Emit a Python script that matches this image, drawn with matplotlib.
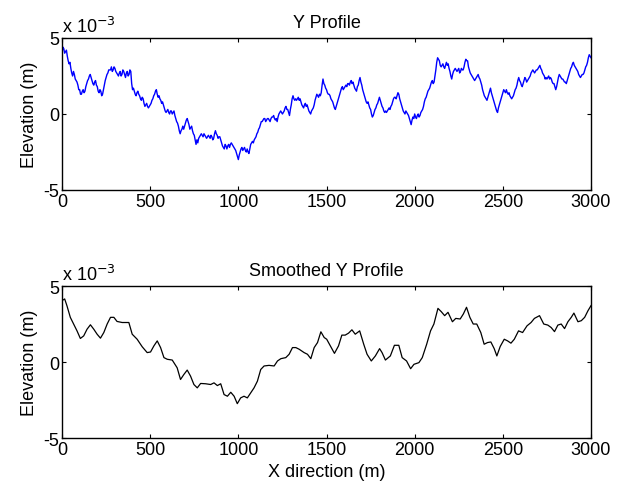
import numpy as np
import matplotlib
matplotlib.use("Agg")
import matplotlib.pyplot as plt

plt.rcParams['font.family'] = ['Liberation Sans', 'DejaVu Sans']
plt.rcParams['axes.unicode_minus'] = False

# ---------------- data (elevation in units of 1e-3 m) ----------------
# raw profile, samples at 0, 10, 20, ... m
raw_x = list(range(0, 3001, 10))
raw_y = [
    4.0, 4.3, 4.1, 3.8, 3.3, 3.0, 2.5, 2.6, 2.2, 1.9,
    1.6, 1.3, 1.6, 1.5, 2.0, 2.3, 2.6, 2.2, 1.9, 2.2,
    1.8, 1.4, 1.5, 1.3, 1.9, 2.4, 2.7, 2.9, 3.1, 2.9,
    3.0, 2.7, 2.5, 2.8, 2.6, 2.8, 2.4, 2.8, 2.6, 2.8,
    1.6, 1.5, 1.2, 1.5, 1.2, 0.9, 1.0, 0.5, 0.7, 0.4,
    0.6, 0.9, 1.2, 1.5, 1.3, 1.2, 0.9, 0.8, 0.4, 0.1,
    0.3, 0.0, 0.2, 0.1, -0.1, -0.5, -0.8, -1.3, -1.0, -1.0,
    -0.6, -0.3, -0.7, -0.9, -1.1, -1.4, -2.0, -1.9, -1.5, -1.3,
    -1.5, -1.4, -1.6, -1.4, -1.6, -1.5, -1.6, -1.1, -1.4, -1.5,
    -1.7, -2.1, -2.3, -2.1, -2.1, -2.2, -1.9, -2.1, -2.3, -2.6,
    -3.0, -2.5, -2.2, -2.3, -2.4, -2.3, -2.6, -2.0, -1.8, -1.7,
    -1.5, -1.2, -0.9, -0.5, -0.4, -0.3, -0.4, -0.3, -0.5, -0.2,
    -0.1, -0.4, -0.5, 0.0, 0.2, 0.0, 0.2, 0.5, 0.3, -0.1,
    0.6, 1.2, 0.9, 0.9, 1.1, 1.0, 0.6, 0.4, 0.7, 0.6,
    0.2, 0.0, 0.3, 0.6, 1.1, 1.2, 1.3, 1.4, 2.3, 1.9,
    1.6, 1.3, 1.2, 0.9, 0.6, 0.3, 0.7, 1.1, 1.5, 1.8,
    1.7, 1.9, 2.0, 1.9, 2.2, 2.1, 1.7, 1.5, 1.9, 2.4,
    1.9, 1.4, 1.0, 0.7, 0.6, 0.3, -0.2, 0.1, 0.4, 0.7,
    1.1, 0.7, 0.4, 0.1, 0.1, 0.3, 0.3, 0.6, 1.0, 1.1,
    1.2, 1.3, 0.8, 0.4, 0.1, 0.2, 0.0, -0.3, -0.7, -0.2,
    0.0, -0.3, 0.0, -0.1, 0.2, 0.5, 1.0, 1.3, 1.6, 1.9,
    2.2, 2.1, 2.9, 3.7, 3.5, 3.1, 3.3, 3.0, 3.4, 3.3,
    2.8, 2.3, 2.8, 3.0, 2.8, 3.0, 2.8, 2.9, 3.1, 3.6,
    3.5, 2.9, 2.6, 2.4, 2.2, 2.4, 2.6, 2.3, 1.9, 1.4,
    1.1, 0.9, 1.3, 1.7, 1.2, 0.8, 0.4, 0.1, 0.6, 1.0,
    1.4, 1.5, 1.6, 1.3, 1.2, 1.0, 1.2, 1.6, 1.9, 2.4,
    2.1, 1.8, 2.2, 2.3, 2.2, 2.4, 2.7, 2.9, 2.7, 2.9,
    3.0, 3.2, 2.9, 2.6, 2.3, 2.3, 2.5, 2.4, 2.1, 2.0,
    1.6, 2.1, 2.6, 2.4, 2.3, 2.1, 2.0, 2.4, 2.8, 3.1,
    3.4, 3.1, 2.9, 2.6, 2.4, 2.6, 2.7, 3.1, 3.4, 3.9, 3.7,
]
# raw profile, samples at 5, 15, 25, ... m
mid_x = list(range(5, 3000, 10))
mid_y = [
    4.4, 4.0, 4.2, 3.5, 3.4, 2.7, 2.8, 2.3, 2.1, 1.6,
    1.3, 1.5, 1.4, 1.8, 2.2, 2.5, 2.4, 2.0, 2.1, 1.9,
    1.5, 1.6, 1.2, 1.6, 2.2, 2.6, 2.9, 2.9, 2.8, 3.1,
    2.8, 2.6, 2.7, 2.5, 2.9, 2.6, 2.7, 2.5, 2.9, 2.0,
    1.7, 1.3, 1.4, 1.3, 1.0, 1.1, 0.7, 0.6, 0.5, 0.5,
    0.7, 1.0, 1.3, 1.6, 1.1, 1.0, 0.7, 0.6, 0.2, 0.2,
    0.1, 0.2, 0.0, 0.2, -0.3, -0.6, -1.1, -1.1, -0.8, -0.8,
    -0.4, -0.5, -1.0, -0.8, -1.3, -1.7, -1.7, -1.6, -1.4, -1.4,
    -1.3, -1.5, -1.5, -1.5, -1.4, -1.7, -1.3, -1.3, -1.6, -1.5,
    -1.9, -2.2, -2.0, -2.3, -2.0, -2.0, -2.0, -2.2, -2.4, -2.8,
    -2.7, -2.3, -2.4, -2.2, -2.5, -2.5, -2.3, -1.9, -1.9, -1.6,
    -1.3, -1.0, -0.7, -0.5, -0.3, -0.5, -0.3, -0.4, -0.3, -0.2,
    -0.3, -0.3, -0.2, 0.1, 0.1, 0.1, 0.4, 0.3, 0.1, 0.3,
    1.0, 1.0, 1.0, 1.0, 0.9, 0.8, 0.5, 0.6, 0.5, 0.4,
    0.1, 0.2, 0.4, 0.9, 1.3, 1.1, 1.2, 1.9, 2.0, 1.7,
    1.4, 1.3, 1.0, 0.8, 0.4, 0.5, 0.9, 1.3, 1.7, 1.6,
    1.8, 1.8, 2.0, 2.1, 2.0, 1.9, 1.6, 1.8, 2.2, 2.1,
    1.6, 1.2, 0.8, 0.8, 0.4, 0.0, -0.1, 0.3, 0.6, 0.9,
    0.9, 0.5, 0.2, 0.2, 0.2, 0.4, 0.5, 0.8, 1.1, 1.0,
    1.4, 1.0, 0.6, 0.2, 0.0, 0.1, -0.1, -0.5, -0.4, -0.3,
    -0.2, -0.1, -0.2, 0.1, 0.3, 0.8, 1.1, 1.5, 1.7, 2.1,
    2.0, 2.5, 3.4, 3.6, 3.2, 3.2, 3.1, 3.2, 3.2, 3.0,
    2.5, 2.6, 2.9, 2.9, 2.9, 2.7, 3.0, 2.9, 3.4, 3.5,
    3.1, 2.7, 2.5, 2.3, 2.3, 2.5, 2.4, 2.1, 1.6, 1.2,
    1.0, 1.1, 1.5, 1.4, 1.0, 0.6, 0.2, 0.4, 0.8, 1.2,
    1.6, 1.4, 1.4, 1.4, 1.1, 1.1, 1.4, 1.7, 2.2, 2.2,
    1.9, 2.0, 2.4, 2.1, 2.3, 2.5, 2.8, 2.8, 2.8, 2.9,
    3.1, 3.0, 2.7, 2.5, 2.4, 2.4, 2.3, 2.3, 2.0, 1.8,
    1.8, 2.4, 2.5, 2.3, 2.2, 2.1, 2.2, 2.6, 3.0, 3.3,
    3.2, 3.0, 2.8, 2.5, 2.5, 2.6, 2.9, 3.2, 3.7, 3.8,
]

smooth_x = [0, 15, 28, 47, 66, 85, 104, 123, 142, 161, 180, 199, 218, 237, 256,
            275, 294, 312, 341, 379, 398, 426, 455, 483, 502, 521, 540, 559, 578,
            597, 625, 653, 672, 691, 710, 729, 748, 767, 786, 814, 843, 862, 881,
            900, 919, 938, 957, 976, 994, 1013, 1032, 1051, 1070, 1089, 1108,
            1127, 1146, 1174, 1203, 1222, 1241, 1269, 1288, 1307, 1326, 1345,
            1373, 1392, 1411, 1430, 1449, 1468, 1487, 1501, 1520, 1545, 1568,
            1587, 1606, 1625, 1644, 1663, 1688, 1711, 1730, 1754, 1777, 1801,
            1815, 1834, 1862, 1885, 1910, 1929, 1954, 1977, 1996, 2024, 2043,
            2068, 2090, 2109, 2132, 2151, 2170, 2189, 2214, 2233, 2258, 2276,
            2294, 2313, 2332, 2352, 2375, 2394, 2413, 2432, 2451, 2466, 2485,
            2508, 2527, 2546, 2565, 2589, 2612, 2637, 2660, 2679, 2708, 2732,
            2755, 2774, 2793, 2812, 2831, 2850, 2869, 2888, 2903, 2926, 2945,
            2964, 2983, 3000]
smooth_y = [4.04, 4.15, 3.7, 2.94, 2.5, 2.05, 1.55, 1.72, 2.16, 2.45, 2.16, 1.83,
            1.57, 1.94, 2.5, 2.94, 2.94, 2.67, 2.6, 2.6, 1.83, 1.5, 1.0, 0.62,
            0.66, 1.06, 1.39, 0.95, 0.29, 0.18, 0.13, -0.38, -1.15, -0.82, -0.53,
            -0.93, -1.48, -1.7, -1.41, -1.43, -1.48, -1.37, -1.55, -1.43, -2.14,
            -2.25, -1.99, -2.25, -2.74, -2.36, -2.25, -2.36, -2.03, -1.7, -1.26,
            -0.49, -0.26, -0.22, -0.26, 0.07, 0.22, 0.29, 0.51, 0.95, 0.95, 0.84,
            0.62, 0.51, 0.22, 0.95, 1.28, 1.99, 1.61, 1.5, 1.1, 0.57, 1.06, 1.77,
            1.77, 1.9, 2.12, 1.83, 2.05, 1.17, 0.51, 0.07, 0.4, 0.88, 0.62, 0.13,
            0.4, 1.1, 1.1, 0.29, 0.07, -0.44, -0.15, -0.04, 0.29, 1.17, 2.05, 2.5,
            3.53, 3.31, 3.05, 3.27, 2.65, 2.87, 2.83, 3.16, 3.6, 2.94, 2.5, 2.5,
            1.94, 1.17, 1.28, 1.32, 0.88, 0.4, 1.02, 1.5, 1.39, 1.24, 1.5, 2.05,
            1.94, 2.38, 2.6, 2.87, 3.05, 2.5, 2.43, 2.27, 2.0, 2.43, 2.5, 2.2,
            2.65, 2.94, 3.22, 2.65, 2.72, 2.94, 3.38, 3.71]

x_ticks = [0, 500, 1000, 1500, 2000, 2500, 3000]
y_ticks = [-5, 0, 5]

FS = 13

# merge the two raw sample sets in x order
all_x = np.array(raw_x + mid_x, dtype=float)
all_y = np.array(raw_y + mid_y, dtype=float)
order = np.argsort(all_x)
prof_x, prof_y = all_x[order], all_y[order]

# ---------------- figure ----------------
fig = plt.figure(figsize=(6.29, 4.85), dpi=100)
ax1 = fig.add_axes([0.0986, 0.6062, 0.8410, 0.3134])
ax2 = fig.add_axes([0.0986, 0.0948, 0.8410, 0.3134])

def style(ax, title):
    ax.set_xlim(0, 3000)
    ax.set_ylim(-5, 5)
    ax.set_xticks(x_ticks)
    ax.set_yticks(y_ticks)
    ax.tick_params(direction='in', length=3, width=0.8, top=True, right=True,
                   labelsize=FS, pad=2, colors='black')
    for s in ax.spines.values():
        s.set_linewidth(1.0)
    ax.set_ylabel('Elevation (m)', fontsize=FS, labelpad=4)
    ax.set_title(title, fontsize=FS, pad=8)
    ax.text(0.0, 1.04, r'x 10$^{-3}$', transform=ax.transAxes,
            fontsize=FS, ha='left', va='baseline')

ax1.plot(prof_x, prof_y, color='#0000ff', linewidth=1.0)
style(ax1, 'Y Profile')

ax2.plot(smooth_x, smooth_y, color='black', linewidth=0.9)
style(ax2, 'Smoothed Y Profile')
ax2.set_xlabel('X direction (m)', fontsize=FS, labelpad=4)

fig.savefig('out.png', dpi=100)
